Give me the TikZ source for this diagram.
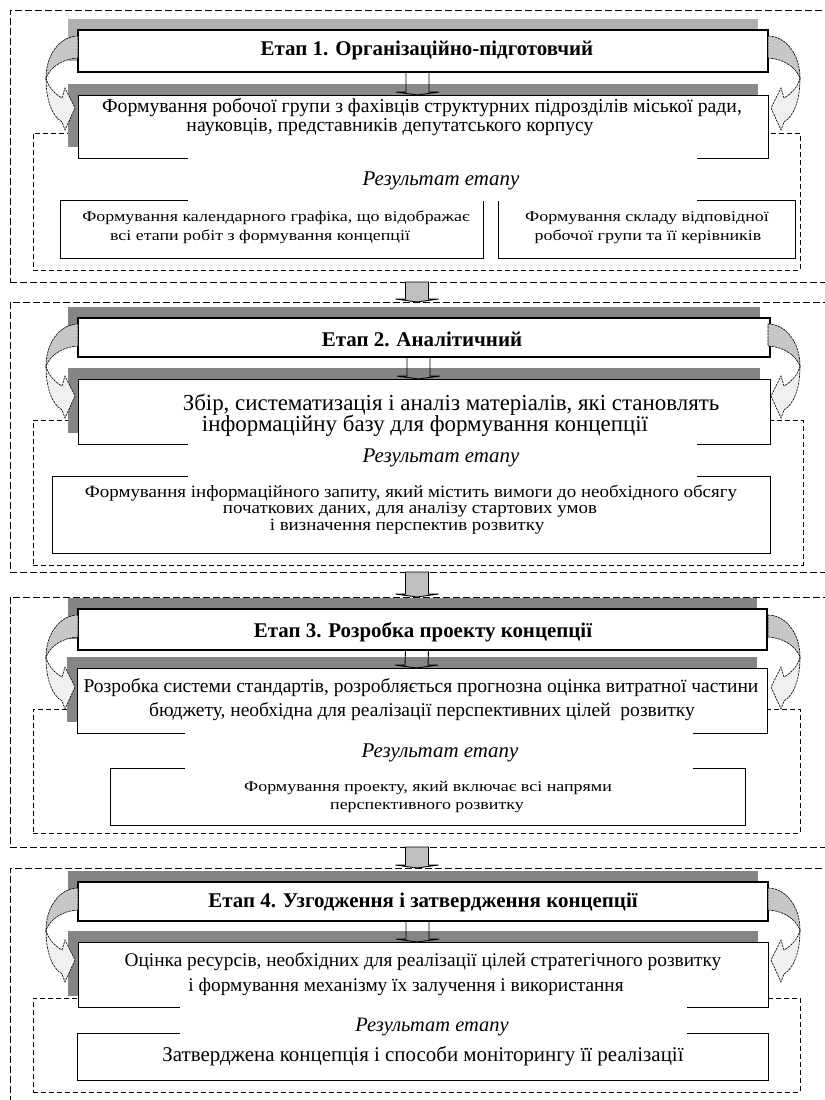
\documentclass[tikz,border=0pt]{standalone}
\usepackage{fontspec}
\setmainfont{Liberation Serif}
\newfontfamily\wideA[FakeStretch=1.2]{Liberation Serif}
\newfontfamily\wideB[FakeStretch=1.1]{Liberation Serif}
\usetikzlibrary{calc}
\newcommand\bx[6]{\node[#6, anchor=north west, inner sep=0pt, outer sep=0pt, minimum width={(#4-#2)*1bp}, minimum height={(#5-#3)*1bp}] (#1) at (#2,#3) {};}
\newcommand\shd[5]{\fill[#5] ({#1-10},{#2-11}) rectangle ({#3-10},{#4-11});}
\newcommand\blk[3]{\path[#3] ([xshift=-17bp]#1) -- ([xshift=-17bp,yshift=3bp]#2) -- ([xshift=-27bp,yshift=3bp]#2) -- ([xshift=-5.5bp]#2) -- ([xshift=16bp,yshift=3bp]#2) -- ([xshift=6bp,yshift=3bp]#2) -- ([xshift=6bp]#1) -- cycle;}
\newcommand\cvshape{%
 \path[cvline, fill=black!22] (78,6) .. controls (60,6) and (46,25) .. (46,48) .. controls (50,38) and (61,29) .. (78,28) -- cycle;
 \path[cvline, fill=black!6] (46,48) .. controls (46,70) and (52,86) .. (62,92) -- (65,100) -- (75,78) -- (65,58) -- (62,68) .. controls (55,64) and (48,57) .. (46,48) -- cycle;}
\newcommand\cva[1]{\begin{scope}[shift={(0,#1)}]\cvshape\end{scope}\begin{scope}[shift={(846,#1)},xscale=-1]\cvshape\end{scope}}
\begin{document}
\begin{tikzpicture}[x=1bp,y=-1bp,
  outerd/.style={draw, dash pattern=on 7bp off 3bp, line width=0.9bp},
  innerd/.style={draw, dash pattern=on 5bp off 3bp, line width=0.8bp},
  titlebox/.style={draw, line width=2.2bp, fill=white},
  mainbox/.style={draw, line width=1bp, fill=white},
  resbox/.style={draw, line width=0.9bp, fill=white},
  labbox/.style={fill=white, draw=none},
  cvline/.style={draw=black, line width=0.6bp, dash pattern=on 2.5bp off 0.8bp},
  intraarr/.style={draw, line width=0.9bp},
  interarr/.style={draw, line width=0.9bp, fill=black!25},
  txt/.style={inner sep=0pt, anchor=center},
  ttl/.style={txt, font=\bfseries\fontsize{21}{23}\selectfont},
  lab/.style={txt, font=\itshape\fontsize{21}{23}\selectfont},
  sa/.style={txt, font=\fontsize{19.8}{22}\selectfont},
  sb/.style={txt, font=\fontsize{23}{25}\selectfont},
  sc/.style={txt, font=\fontsize{19.6}{22}\selectfont},
  sd/.style={txt, font=\fontsize{19.4}{22}\selectfont},
  ra/.style={txt, font=\wideA\fontsize{15}{18}\selectfont},
  rb/.style={txt, font=\wideB\fontsize{17.3}{19}\selectfont},
  rc/.style={txt, font=\wideA\fontsize{15}{18}\selectfont},
  rd/.style={txt, font=\fontsize{21}{23}\selectfont}
]
\useasboundingbox (0,0) rectangle (825,1100);
\clip (0,0) rectangle (825,1100);
\fill[white] (0,0) rectangle (825,1100);

% ---------------- stage 1
\bx{o1}{10}{10}{835}{282}{outerd}
\bx{i1}{33}{133}{800}{270}{innerd}
\shd{78}{30}{768}{72}{black!31}
\shd{78}{95}{768}{158}{black!46}
\bx{t1}{78}{30}{768}{72}{titlebox}
\bx{s1}{78}{95}{768}{158}{mainbox}
\bx{r1a}{60}{200}{483}{258}{resbox}
\bx{r1b}{498}{200}{795}{258}{resbox}
\bx{l1}{188}{157}{697}{201}{labbox}
\node[ttl] (tt1) at (427,50) {Етап 1. Організаційно-підготовчий};
\node[sa] (ts1a) at (422,108) {Формування робочої групи з фахівців структурних підрозділів міської ради,};
\node[sa] (ts1b) at (390,127) {науковців, представників депутатського корпусу};
\node[lab] (tl1) at (441,181) {Результат етапу};
\node[ra] (tr1a) at (276,218) {Формування календарного графіка, що відображає};
\node[ra] (tr1b) at (260,237) {всі етапи робіт з формування концепції};
\node[ra] (tr1c) at (647,218) {Формування складу відповідної};
\node[ra] (tr1d) at (648,237) {робочої групи та її керівників};
\blk{t1.south}{s1.north}{intraarr}
\cva{30}

% ---------------- stage 2
\bx{o2}{10}{302}{835}{572}{outerd}
\bx{i2}{33}{420}{803}{565}{innerd}
\shd{78}{318}{770}{357}{black!48}
\shd{78}{379}{770}{444}{black!48}
\bx{t2}{78}{318}{770}{357}{titlebox}
\bx{s2}{78}{379}{770}{444}{mainbox}
\bx{r2}{52}{476}{770}{553}{resbox}
\bx{l2}{188}{443}{697}{477}{labbox}
\node[ttl] (tt2) at (422,339) {Етап 2. Аналітичний};
\node[sb] (ts2a) at (451,405) {Збір, систематизація і аналіз матеріалів, які становлять};
\node[sb] (ts2b) at (425,426) {інформаційну базу для формування концепції};
\node[lab] (tl2) at (441,458) {Результат етапу};
\node[rb] (tr2a) at (411,493) {Формування інформаційного запиту, який містить вимоги до необхідного обсягу};
\node[rb] (tr2b) at (410,510) {початкових даних, для аналізу стартових умов};
\node[rb] (tr2c) at (407,527) {і визначення перспектив розвитку};
\blk{t2.south}{s2.north}{intraarr}
\cva{318}

% ---------------- stage 3
\bx{o3}{10}{597}{835}{847}{outerd}
\bx{i3}{33}{709}{800}{833}{innerd}
\shd{78}{609}{767}{650}{black!48}
\shd{77}{668}{767}{733}{black!48}
\bx{t3}{78}{609}{767}{650}{titlebox}
\bx{s3}{77}{668}{767}{733}{mainbox}
\bx{r3}{110}{768}{745}{825}{resbox}
\bx{l3}{185}{732}{693}{769}{labbox}
\node[ttl] (tt3) at (423,632) {Етап 3. Розробка проекту концепції};
\node[sc] (ts3a) at (421,688) {Розробка системи стандартів, розробляється прогнозна оцінка витратної частини};
\node[sc] (ts3b) at (422,712) {бюджету, необхідна для реалізації перспективних цілей\ \ розвитку};
\node[lab] (tl3) at (440,753) {Результат етапу};
\node[rc] (tr3a) at (428,788) {Формування проекту, який включає всі напрями};
\node[rc] (tr3b) at (427,808) {перспективного розвитку};
\blk{t3.south}{s3.north}{intraarr}
\cva{609}

% ---------------- stage 4
\bx{o4}{10}{868}{835}{1120}{outerd}
\bx{i4}{33}{998}{800}{1092}{innerd}
\shd{78}{882}{768}{921}{black!48}
\shd{78}{942}{768}{1007}{black!48}
\bx{t4}{78}{882}{768}{921}{titlebox}
\bx{s4}{78}{942}{768}{1007}{mainbox}
\bx{r4}{77}{1033}{768}{1080}{resbox}
\bx{l4}{180}{1006}{687}{1034}{labbox}
\node[ttl] (tt4) at (423,902) {Етап 4. Узгодження і затвердження концепції};
\node[sd] (ts4a) at (423,962) {Оцінка ресурсів, необхідних для реалізації цілей стратегічного розвитку};
\node[sd] (ts4b) at (406,987) {і формування механізму їх залучення і використання};
\node[lab, font=\itshape\fontsize{20.5}{22}\selectfont] (tl4) at (432,1027) {Результат етапу};
\node[rd] (tr4) at (423,1056) {Затверджена концепція і способи моніторингу її реалізації};
\blk{t4.south}{s4.north}{intraarr}
\cva{882}

% ---------------- arrows between stages
\blk{o1.south}{o2.north}{interarr}
\blk{o2.south}{o3.north}{interarr}
\blk{o3.south}{o4.north}{interarr}
\end{tikzpicture}
\end{document}
